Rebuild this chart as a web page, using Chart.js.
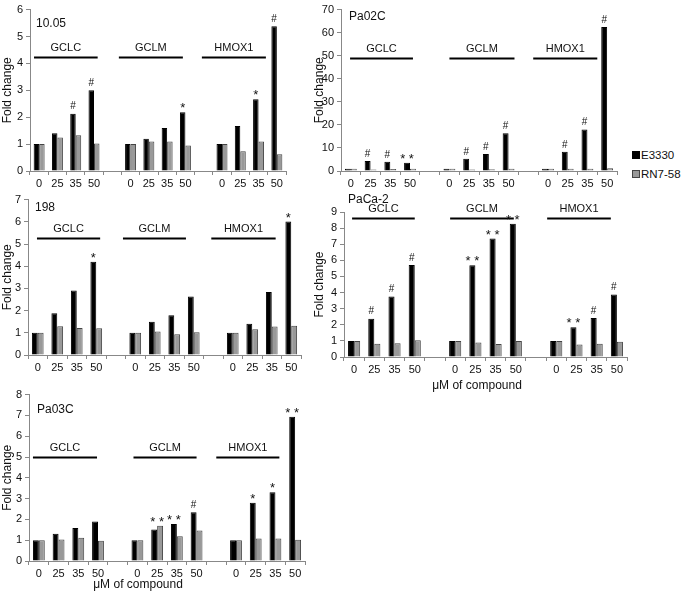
<!DOCTYPE html>
<html lang="en">
<head>
<meta charset="UTF-8">
<title>Fold change panels</title>
<script src="https://cdn.jsdelivr.net/npm/chart.js"></script>
<style>
  body { margin: 0; background: #fff; font-family: "Liberation Sans", Arial, sans-serif; }
  #page { position: relative; width: 683px; height: 593px; overflow: hidden; }
  .panel { position: absolute; }
  .legend { position: absolute; left: 632px; font-size: 11.5px; color: #111; white-space: nowrap; }
  .legend span { display: inline-block; width: 8px; height: 8px; margin-right: 1px; vertical-align: 0px; box-sizing: border-box; }
</style>
</head>
<body>
<div id="page">
  <div class="panel" style="left:0;top:0;width:290px;height:195px"><canvas id="c1"></canvas></div>
  <div class="panel" style="left:312px;top:0;width:310px;height:195px"><canvas id="c2"></canvas></div>
  <div class="panel" style="left:0;top:190px;width:305px;height:190px"><canvas id="c3"></canvas></div>
  <div class="panel" style="left:312px;top:190px;width:320px;height:205px"><canvas id="c4"></canvas></div>
  <div class="panel" style="left:0;top:385px;width:310px;height:208px"><canvas id="c5"></canvas></div>
  <div class="legend" style="top:149px"><span style="background:#000"></span>E3330</div>
  <div class="legend" style="top:168px"><span style="background:#999;border:1px solid #444"></span>RN7-58</div>
</div>
<script>
// categories: three genes x four doses, an empty slot between genes
const doses = ['0', '25', '35', '50', '', '0', '25', '35', '50', '', '0', '25', '35', '50'];
const genes = ['GCLC', 'GCLM', 'HMOX1'];

// 10.05
const e1005 = [1, 1.4, 2.13, 3.0, null, 1, 1.2, 1.6, 2.18, null, 1, 1.67, 2.67, 5.38];
const r1005 = [1, 1.25, 1.33, 1.02, null, 1, 1.1, 1.1, 0.95, null, 1, 0.73, 1.1, 0.62];
const s1005 = ['', '', '#', '#', '', '', '', '', '*', '', '', '', '*', '#'];

// Pa02C
const ePa02C = [1, 4.3, 4.0, 3.6, null, 1, 5.3, 7.4, 16.4, null, 1, 8.3, 18, 62.5];
const rPa02C = [1, 0.7, 0.9, 1.0, null, 1, 0.7, 0.8, 1.0, null, 1, 1.0, 1.0, 1.2];
const sPa02C = ['', '#', '#', '**', '', '', '#', '#', '#', '', '', '#', '#', '#'];

// 198
const e198 = [1, 1.88, 2.91, 4.2, null, 1, 1.5, 1.79, 2.63, null, 1, 1.41, 2.84, 6.01];
const r198 = [1, 1.29, 1.22, 1.2, null, 1, 1.06, 0.93, 1.03, null, 1, 1.16, 1.28, 1.32];
const s198 = ['', '', '', '*', '', '', '', '', '', '', '', '', '', '*'];

// PaCa-2
const ePaCa2 = [1, 2.38, 3.75, 5.71, null, 1, 5.7, 7.35, 8.27, null, 1, 1.85, 2.42, 3.88];
const rPaCa2 = [1, 0.83, 0.85, 1.04, null, 1, 0.9, 0.8, 1.0, null, 1, 0.77, 0.83, 0.95];
const sPaCa2 = ['', '#', '#', '#', '', '', '**', '**', '**', '', '', '**', '#', '#'];

// Pa03C
const ePa03C = [1, 1.31, 1.59, 1.9, null, 1, 1.52, 1.78, 2.34, null, 1, 2.8, 3.3, 6.94];
const rPa03C = [1, 1.03, 1.12, 0.97, null, 1, 1.69, 1.19, 1.47, null, 1, 1.08, 1.08, 1.02];
const sPa03C = ['', '', '', '', '', '', '**', '**', '#', '', '', '*', '*', '**'];

const font = 'Liberation Sans, Arial, sans-serif';

// draws panel name, gene bars, significance marks and the x title
const panelMarks = {
  id: 'panelMarks',
  afterDatasetsDraw(chart, args, o) {
    const ctx = chart.ctx, xs = chart.scales.x, ys = chart.scales.y, ca = chart.chartArea;
    ctx.save();
    ctx.fillStyle = '#111';
    ctx.font = '12px ' + font;
    ctx.textBaseline = 'middle';
    ctx.textAlign = 'left';
    ctx.fillText(o.title, ca.left + o.titleDx, ca.top + o.titleDy);

    if (o.xTitle) {
      ctx.textAlign = 'center';
      ctx.fillText('μM of compound', ca.left + o.xTitleAt * (ca.right - ca.left), ca.bottom + o.xTitleDy);
    }

    ctx.font = '11px ' + font;
    ctx.textAlign = 'center';
    ctx.textBaseline = 'bottom';
    o.spans.forEach((sp, i) => {
      const x1 = xs.getPixelForValue(sp[0]), x2 = xs.getPixelForValue(sp[1]);
      const y = Math.round(ys.getPixelForValue(o.lineY)) + 0.5;
      ctx.strokeStyle = '#000';
      ctx.lineWidth = 2;
      ctx.beginPath(); ctx.moveTo(x1, y); ctx.lineTo(x2, y); ctx.stroke();
      ctx.fillText(genes[i], (x1 + x2) / 2, y - 4);
    });

    const m0 = chart.getDatasetMeta(0).data, m1 = chart.getDatasetMeta(1).data;
    o.sig.forEach((s, i) => {
      if (!s) return;
      const el = m0[i];
      let y = el.y;
      let x = el.x;
      if (s === '**' && m1[i].y < el.y) { y = m1[i].y; x = (el.x + m1[i].x) / 2; }
      if (s === '#') {
        ctx.font = '10px ' + font;
        ctx.fillText('#', x, y - 2);
      } else {
        ctx.font = '13px ' + font;
        ctx.fillText(s === '**' ? '* *' : '*', x, y + 3);
      }
    });
    ctx.restore();
  }
};

function panel(id, e, r, s, cfg) {
  new Chart(document.getElementById(id), {
    type: 'bar',
    data: {
      labels: doses,
      datasets: [
        { label: 'E3330', data: e, backgroundColor: '#000', borderColor: '#000', borderWidth: 1 },
        { label: 'RN7-58', data: r, backgroundColor: '#999', borderColor: '#444', borderWidth: 1 }
      ]
    },
    plugins: [panelMarks],
    options: {
      responsive: true,
      maintainAspectRatio: false,
      animation: false,
      categoryPercentage: 0.6,
      barPercentage: 1,
      layout: { padding: { top: cfg.padTop, right: cfg.padRight, left: 0, bottom: 0 } },
      plugins: {
        legend: { display: false },
        tooltip: { enabled: false },
        panelMarks: {
          title: cfg.title, titleDx: cfg.titleDx, titleDy: cfg.titleDy, spans: cfg.spans, lineY: cfg.lineY, sig: s,
          xTitle: !!cfg.xTitleAt, xTitleAt: cfg.xTitleAt, xTitleDy: cfg.xTitleDy
        }
      },
      scales: {
        x: {
          grid: { display: true, drawOnChartArea: false, offset: true, tickLength: 4, color: '#888' },
          border: { color: '#888' },
          ticks: { autoSkip: false, maxRotation: 0, color: '#111', padding: 2, font: { family: font, size: 11 } },
          afterFit: sc => { sc.height = cfg.xH; }
        },
        y: {
          min: 0,
          max: cfg.max,
          ticks: { stepSize: cfg.step, autoSkip: false, color: '#111', padding: 3, font: { family: font, size: 11 } },
          grid: { display: true, drawOnChartArea: false, tickLength: 4, color: '#888' },
          border: { color: '#888' },
          title: { display: true, text: 'Fold change', color: '#111', padding: 0, font: { family: font, size: 12 } },
          afterFit: sc => { sc.width = cfg.yW; }
        }
      }
    }
  });
}

panel('c1', e1005, r1005, s1005, {
  title: '10.05', titleDx: 6, titleDy: 14, max: 6, step: 1, yW: 30, xH: 24, padTop: 7, padRight: 4,
  lineY: 4.25, spans: [[-0.28, 3.2], [4.36, 7.86], [8.9, 12.4]]
});
panel('c2', ePa02C, rPa02C, sPa02C, {
  title: 'Pa02C', titleDx: 8, titleDy: 7, max: 70, step: 10, yW: 29, xH: 24, padTop: 4, padRight: 5,
  lineY: 48.8, spans: [[-0.04, 3.15], [5.0, 8.3], [9.25, 12.5]]
});
panel('c3', e198, r198, s198, {
  title: '198', titleDx: 7, titleDy: 8, max: 7, step: 1, yW: 28, xH: 25, padTop: 6, padRight: 4,
  lineY: 5.28, spans: [[-0.04, 3.2], [4.37, 7.6], [8.9, 12.2]]
});
panel('c4', ePaCa2, rPaCa2, sPaCa2, {
  title: 'PaCa-2', titleDx: 4, titleDy: -12, max: 9, step: 1, yW: 32, xH: 38, padTop: 22, padRight: 5,
  lineY: 8.63, spans: [[-0.1, 3.0], [4.75, 7.9], [9.55, 12.7]], xTitleAt: 0.47, xTitleDy: 29
});
panel('c5', ePa03C, rPa03C, sPa03C, {
  title: 'Pa03C', titleDx: 8, titleDy: 15, max: 8, step: 1, yW: 29, xH: 32, padTop: 5, padRight: 5,
  lineY: 5.02, spans: [[-0.3, 2.95], [4.8, 8.0], [9.0, 12.2]], xTitleAt: 0.395, xTitleDy: 24
});
</script>
</body>
</html>
